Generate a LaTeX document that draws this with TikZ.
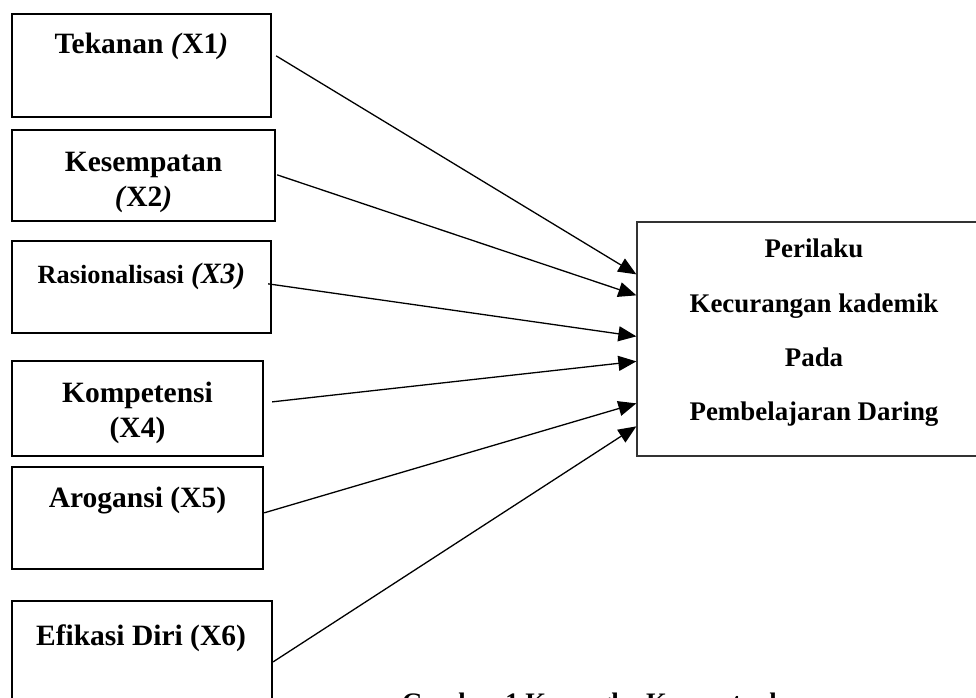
\documentclass[tikz,border=0pt]{standalone}
\usepackage{fontspec}
\setmainfont{Liberation Serif}
\usetikzlibrary{arrows.meta}
\tikzset{
  lbox/.style={draw=black, line width=2.3pt, inner sep=0pt, fill=none},
  rbox/.style={draw=black!80, line width=1.3pt, inner sep=0pt},
  ltxt/.style={inner sep=0pt, anchor=base, font=\fontsize{29.5}{35}\selectfont\bfseries},
  rtxt/.style={inner sep=0pt, anchor=base, font=\fontsize{26.9}{32}\selectfont\bfseries},
  conn/.style={line width=1.3pt, -{Triangle[length=18pt,width=15pt]}},
}
\begin{document}
\begin{tikzpicture}[x=1pt,y=-1pt]
\useasboundingbox (0,0) rectangle (976,697);
% left boxes
\node[lbox, minimum width=259pt, minimum height=103pt] (b1) at (141.5,65.5) {};
\node[lbox, minimum width=263pt, minimum height=91pt] (b2) at (143.5,175.5) {};
\node[lbox, minimum width=259pt, minimum height=92pt] (b3) at (141.5,287) {};
\node[lbox, minimum width=251pt, minimum height=95pt] (b4) at (137.5,408.5) {};
\node[lbox, minimum width=251pt, minimum height=102pt] (b5) at (137.5,518) {};
\node[lbox, minimum width=260pt, minimum height=130pt] (b6) at (142,666) {};
% right box
\node[rbox, minimum width=354pt, minimum height=234pt] (R) at (814,339) {};
% left texts
\node[ltxt] (t1) at (141.5,53) {Tekanan \textit{(}X1\textit{)}};
\node[ltxt] (t2a) at (143.5,171) {Kesempatan};
\node[ltxt] (t2b) at (143.5,206) {\textit{(}X2\textit{)}};
\node[ltxt] (t3) at (141.5,283.5) {{\fontsize{26.3}{30}\selectfont Rasionalisasi} \textit{(X3)}};
\node[ltxt] (t4a) at (137.5,402) {Kompetensi};
\node[ltxt] (t4b) at (137.5,437) {(X4)};
\node[ltxt] (t5) at (137.5,507.5) {Arogansi (X5)};
\node[ltxt] (t6) at (141,645.5) {Efikasi Diri (X6)};
% right texts
\node[rtxt] (r1) at (814,257) {Perilaku};
\node[rtxt] (r2) at (814,312) {Kecurangan kademik};
\node[rtxt] (r3) at (814,366) {Pada};
\node[rtxt] (r4) at (814,420) {Pembelajaran Daring};
% caption (cut off at the bottom, as in the reference)
\node[inner sep=0pt, anchor=base west, font=\fontsize{26.7}{30}\selectfont\bfseries] (cap) at (402,711) {Gambar 1 Kerangka Konseptual};
% connectors
\draw[conn] ([xshift=4pt,yshift=-43pt]b1.north east) -- ([yshift=-53pt]R.north west);
\draw[conn] ([xshift=1pt,yshift=-46pt]b2.north east) -- ([yshift=-74pt]R.north west);
\draw[conn] ([xshift=-4pt,yshift=-44pt]b3.north east) -- ([yshift=-115pt]R.north west);
\draw[conn] ([xshift=8pt,yshift=-42pt]b4.north east) -- ([yshift=-140pt]R.north west);
\draw[conn] ([yshift=-47pt]b5.north east) -- ([yshift=-182pt]R.north west);
\draw[conn] ([yshift=-62pt]b6.north east) -- ([yshift=-205pt]R.north west);
\end{tikzpicture}
\end{document}
